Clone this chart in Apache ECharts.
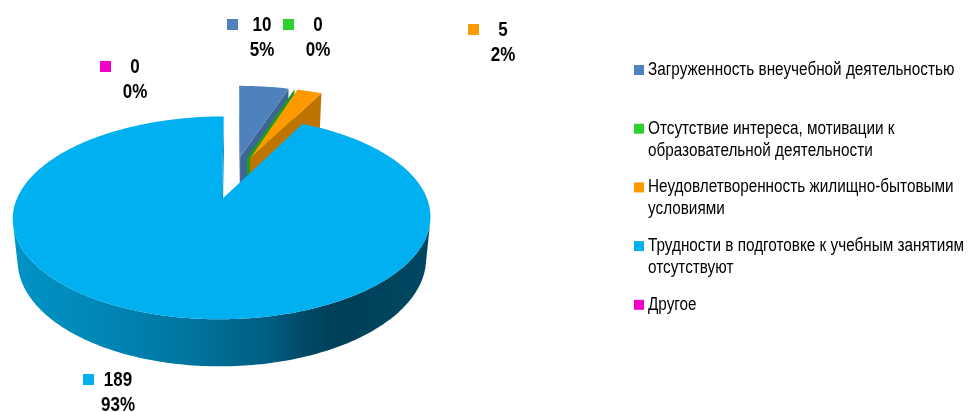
<!DOCTYPE html>
<html>
<head>
<meta charset="utf-8">
<script src="https://cdn.jsdelivr.net/npm/echarts@6/dist/echarts.min.js"></script>
<style>
  html, body { margin: 0; padding: 0; background: #ffffff; }
  #chart { width: 969px; height: 412px; }
</style>
</head>
<body>
<div id="chart"></div>
<script>
// Survey answers: difficulties in preparing for classes
const categories = [
  'Загруженность внеучебной деятельностью',
  'Отсутствие интереса, мотивации к образовательной деятельности',
  'Неудовлетворенность жилищно-бытовыми условиями',
  'Трудности в подготовке к учебным занятиям отсутствуют',
  'Другое'
];
const values = [10, 0, 5, 189, 0];

const sliceColors = ['#4f81bd', '#2ed12e', '#ff9900', '#00b0f0', '#f000c8'];
const faceColors  = ['#3c6696', '#1f9c1f', '#c07400', '#0088ba', '#b0008f'];

// Label block placement (top-left of each key square)
const labelAnchors = [[227, 19], [283, 19], [468, 24], [83, 374], [100, 61]];

const FONT = '"Liberation Sans", Arial, sans-serif';
const NARROW = 0.85;   // horizontal squeeze giving a narrow face

// 3D view of the exploded pie
const VIEW = { cx: 233.2, cy: 177.5, R: 197, H: 46, explode: 47, sinE: 0.458, cosE: 0.889, dist: 1000 };

const total = values.reduce((a, b) => a + b, 0);
const starts = [];
{ let acc = 0; values.forEach(v => { starts.push(acc); acc += v; }); }

function project(X, Z, Y) {
  const depth = Z * VIEW.cosE + Y * VIEW.sinE;
  const p = VIEW.dist / (VIEW.dist - depth);
  return [VIEW.cx + X * p, VIEW.cy + (Z * VIEW.sinE - Y * VIEW.cosE) * p];
}
const camX = 0, camZ = VIEW.dist * VIEW.cosE;

const wallFill = new echarts.graphic.LinearGradient(12, 0, 428, 0, [
  { offset: 0, color: '#0094c6' },
  { offset: 0.22, color: '#0086b6' },
  { offset: 0.45, color: '#00729c' },
  { offset: 0.62, color: '#005d80' },
  { offset: 0.7, color: '#004a66' },
  { offset: 0.78, color: '#003f58' },
  { offset: 1, color: '#004862' }
], true);

function renderSlice(params, api) {
  const i = params.dataIndex;
  const v = api.value(0);
  const a1 = starts[i] / total * Math.PI * 2;
  const a2 = (starts[i] + v) / total * Math.PI * 2;
  const mid = (a1 + a2) / 2;
  const ox = VIEW.explode * Math.sin(mid);
  const oz = -VIEW.explode * Math.cos(mid);
  const R = VIEW.R, H = VIEW.H;
  const rimX = t => ox + R * Math.sin(t);
  const rimZ = t => oz - R * Math.cos(t);
  const rim = (t, Y) => project(rimX(t), rimZ(t), Y);
  const children = [];

  // outer wall: only the part turned toward the camera
  const steps = Math.max(2, Math.ceil((a2 - a1) / (Math.PI / 180)));
  let run = [];
  const runs = [];
  for (let k = 0; k <= steps; k++) {
    const t = a1 + (a2 - a1) * k / steps;
    const X = rimX(t), Z = rimZ(t);
    const dot = (camX - X) * Math.sin(t) + (camZ - Z) * (-Math.cos(t));
    if (dot > 0 && a2 > a1) { run.push(t); }
    else if (run.length) { runs.push(run); run = []; }
  }
  if (run.length) runs.push(run);
  runs.forEach(r => {
    if (r.length < 2) return;
    const pts = r.map(t => rim(t, 0)).concat(r.slice().reverse().map(t => rim(t, -H)));
    children.push({ type: 'polygon', shape: { points: pts }, style: { fill: wallFill, stroke: null } });
  });

  // radial cut faces
  [[a1, -1], [a2, 1]].forEach(([t, sgn]) => {
    const nx = sgn * Math.cos(t), nz = sgn * Math.sin(t);
    const fx = ox + R / 2 * Math.sin(t), fz = oz - R / 2 * Math.cos(t);
    const dot = (camX - fx) * nx + (camZ - fz) * nz;
    if (dot <= 0.5) return;
    children.push({
      type: 'polygon',
      shape: { points: [project(ox, oz, 0), rim(t, 0), rim(t, -H), project(ox, oz, -H)] },
      style: { fill: faceColors[i], stroke: null }
    });
  });

  // top face
  if (a2 > a1) {
    const pts = [project(ox, oz, 0)];
    for (let k = 0; k <= steps; k++) pts.push(rim(a1 + (a2 - a1) * k / steps, 0));
    children.push({ type: 'polygon', shape: { points: pts }, style: { fill: sliceColors[i], stroke: null } });
  }

  // data label: key square, value and share
  const [lx, ly] = labelAnchors[i];
  const pct = Math.round(v / total * 100);
  children.push({
    type: 'rect',
    shape: { x: lx, y: ly, width: 11, height: 11 },
    style: { fill: sliceColors[i] }
  });
  children.push({
    type: 'text',
    x: lx + 35, y: ly - 6, scaleX: NARROW,
    style: {
      text: v + '\n' + pct + '%',
      x: 0, y: 0,
      align: 'center', verticalAlign: 'top',
      font: 'bold 20px ' + FONT,
      lineHeight: 25,
      fill: '#000000'
    }
  });

  return { type: 'group', children };
}

// word wrap measured with the real font
const measureCtx = document.createElement('canvas').getContext('2d');
function wrapWords(text, font, maxWidth) {
  measureCtx.font = font;
  const words = text.split(' ');
  const lines = [];
  let line = '';
  words.forEach(w => {
    const probe = line ? line + ' ' + w : w;
    if (line && measureCtx.measureText(probe).width > maxWidth) { lines.push(line); line = w; }
    else line = probe;
  });
  if (line) lines.push(line);
  return lines.join('\n');
}

// legend built from the category list
const LEGEND_FONT = '18px ' + FONT;
const legendGraphics = [];
categories.forEach((name, i) => {
  const top = 59 + i * 58.7;
  legendGraphics.push({
    type: 'rect', x: 634, y: top + 6,
    shape: { x: 0, y: 0, width: 10, height: 10 },
    style: { fill: sliceColors[i] }
  });
  legendGraphics.push({
    type: 'text', x: 648, y: top, scaleX: NARROW,
    style: {
      text: wrapWords(name, LEGEND_FONT, 335 / NARROW), x: 0, y: 0,
      font: LEGEND_FONT, lineHeight: 22, fill: '#000000'
    }
  });
});

const chart = echarts.init(document.getElementById('chart'), null, { renderer: 'canvas' });
chart.setOption({
  animation: false,
  backgroundColor: '#ffffff',
  series: [{
    type: 'custom',
    coordinateSystem: 'none',
    renderItem: renderSlice,
    data: values.map((v, i) => ({ name: categories[i], value: [v] }))
  }],
  graphic: legendGraphics
});
</script>
</body>
</html>
